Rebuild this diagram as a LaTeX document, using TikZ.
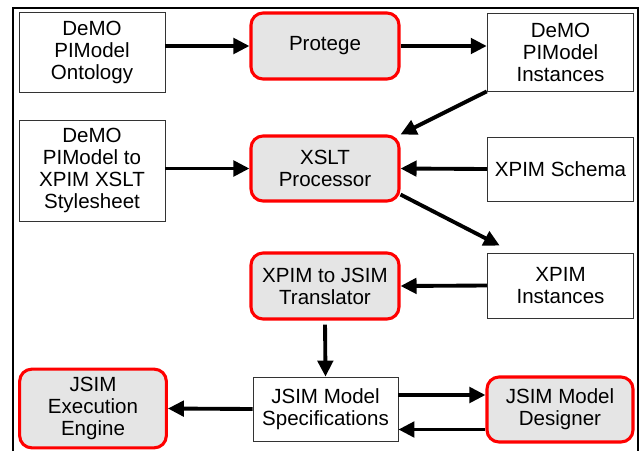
\documentclass[tikz,border=0pt]{standalone}
\usepackage{fontspec}
\setmainfont{Liberation Sans}
\usepackage{tikz}
\usetikzlibrary{arrows.meta}

\begin{document}
\begin{tikzpicture}[x=0.75pt, y=-0.75pt,
    every node/.style={font=\fontsize{15.4}{16.5}\selectfont, align=center, inner sep=0pt},
    filebox/.style={rectangle, draw=black!80, line width=0.6pt, fill=white},
    toolbox/.style={rectangle, rounded corners=9pt, draw=red, line width=2.3pt, fill=gray!20},
    flow/.style={-{Triangle[length=12pt, width=11.5pt]}, line width=2.9pt}]
    \useasboundingbox (0,0) rectangle (640,451);
    \draw[line width=2pt] (13,451) -- (13,8) -- (638,8) -- (638,451);

    % Files
    \node[filebox, minimum width=109.5pt, minimum height=60pt] (onto) at (92,52) {DeMO\\PIModel\\Ontology};
    \node[filebox, minimum width=110pt, minimum height=58.5pt] (deinst) at (560.5,52) {DeMO\\PIModel\\Instances};
    \node[filebox, minimum width=109.5pt, minimum height=75.75pt] (sheet) at (92,170.5) {DeMO\\PIModel to\\XPIM XSLT\\Stylesheet};
    \node[filebox, minimum width=110pt, minimum height=48pt] (schema) at (560.5,169) {XPIM Schema};
    \node[filebox, minimum width=110pt, minimum height=48.75pt] (xpinst) at (560.5,285.5) {XPIM\\Instances};
    \node[filebox, minimum width=108.75pt, minimum height=48pt] (spec) at (325.5,409) {JSIM Model\\Specifications};

    % Tools
    \node[toolbox, minimum width=111pt, minimum height=49.5pt] (protege) at (325,46) {Protege};
    \node[toolbox, minimum width=111pt, minimum height=48.75pt] (xslt) at (325,168.5) {XSLT\\Processor};
    \node[toolbox, minimum width=111pt, minimum height=49.5pt] (trans) at (325,286) {XPIM to JSIM\\Translator};
    \node[toolbox, minimum width=110pt, minimum height=59pt] (engine) at (93,408.5) {JSIM\\Execution\\Engine};
    \node[toolbox, minimum width=109.5pt, minimum height=48.75pt] (designer) at (560,409.5) {JSIM Model\\Designer};

    % Arrows
    \draw[flow] (onto.east |- protege.west) -- (protege.west);
    \draw[flow] (protege.east) -- (deinst.west |- protege.east);
    \draw[flow] (deinst.south west) -- (xslt.north east);
    \draw[flow] (sheet.east |- xslt.west) -- (xslt.west);
    \draw[flow] (schema.west) -- (xslt.east);
    \draw[flow] ([yshift=6pt]xslt.south east) -- ([shift={(13,-7)}]xpinst.north west);
    \draw[flow] (xpinst.west) -- (trans.east);
    \draw[flow, shorten <=3pt] (trans.south) -- (spec.north);
    \draw[flow] (spec.west) -- (engine.east);
    \draw[flow] ([yshift=10.5pt]spec.east) -- ([yshift=10.5pt]spec.east -| designer.west);
    \draw[flow] ([yshift=-15pt]designer.west) -- ([yshift=-15pt]designer.west -| spec.east);
\end{tikzpicture}
\end{document}
